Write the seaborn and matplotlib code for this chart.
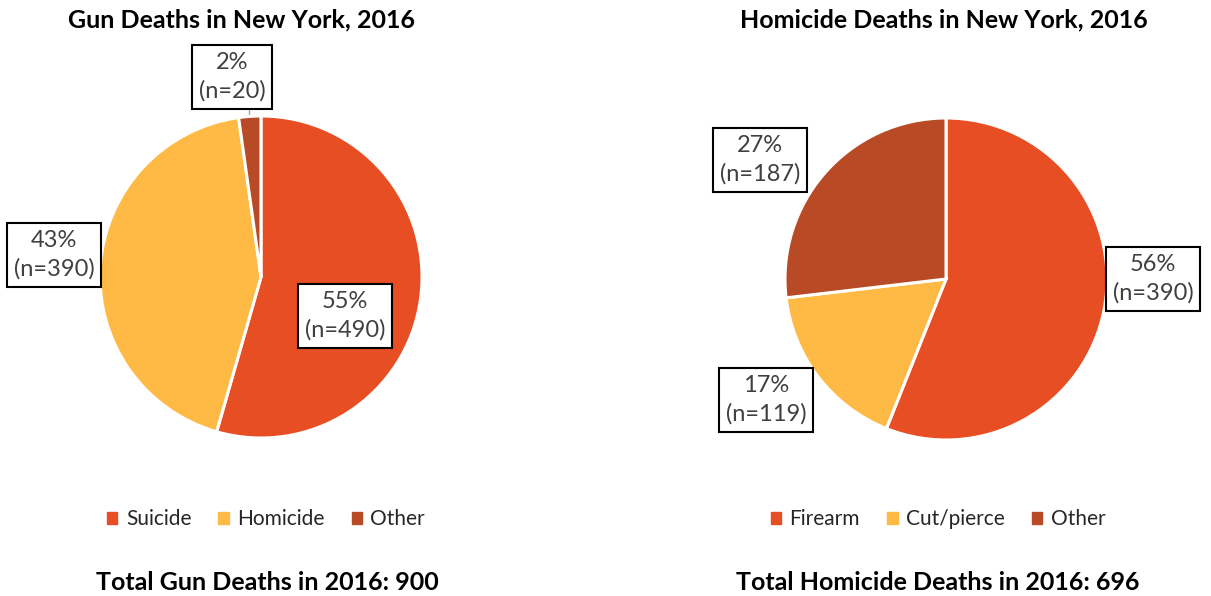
import matplotlib
matplotlib.use("Agg")
import matplotlib.pyplot as plt
import matplotlib.patches as mpatches
import seaborn as sns

# data
gun_labels = ["Suicide", "Homicide", "Other"]
gun_counts = [490, 390, 20]
gun_pcts = [55, 43, 2]

hom_labels = ["Firearm", "Cut/pierce", "Other"]
hom_counts = [390, 119, 187]
hom_pcts = [56, 17, 27]

colors = ["#E84E24", "#FFBA45", "#B84A25"]

sns.set_theme(style="white")
plt.rcParams["font.family"] = ["Lato", "DejaVu Sans"]

W, H = 1211, 596
fig = plt.figure(figsize=(W / 100, H / 100), dpi=100)
R = 161


def pie_axes(cx, cy):
    ax = fig.add_axes([(cx - R) / W, 1 - (cy + R) / H, 2 * R / W, 2 * R / H])
    ax.axis("off")
    return ax


def px(ax_c, p):
    cx, cy = ax_c
    return (p[0] - cx) / R, (cy - p[1]) / R


def draw_pie(cx, cy, counts, pcts, label_pos, leader=None):
    ax = pie_axes(cx, cy)
    wedges, _ = ax.pie(counts, colors=colors, startangle=90, counterclock=False,
                       radius=1, wedgeprops=dict(edgecolor="white", linewidth=2.2))
    ax.set_xlim(-1, 1)
    ax.set_ylim(-1, 1)
    ax.set_aspect("auto")
    for (p, n, pos) in zip(pcts, counts, label_pos):
        x, y = px((cx, cy), pos)
        ax.text(x, y, f"{p}%\n(n={n})", ha="center", va="center", fontsize=17,
                color="#404040", linespacing=1.4, clip_on=False,
                bbox=dict(boxstyle="square,pad=0.3", fc="white", ec="black", lw=1.5))
    if leader is not None:
        (x0, y0), (x1, y1) = px((cx, cy), leader[0]), px((cx, cy), leader[1])
        ax.plot([x0, x1], [y0, y1], color="#A6A6A6", lw=1, clip_on=False, zorder=0)
    return ax, wedges


ax1, w1 = draw_pie(261, 277, gun_counts, gun_pcts,
                   [(345, 316), (54, 255), (232, 77)],
                   leader=((249, 108), (249, 117)))
ax2, w2 = draw_pie(946, 279, hom_counts, hom_pcts,
                   [(1153, 279), (766, 400), (760, 160)])

title_kw = dict(ha="center", va="center", fontsize=18, fontweight="bold", color="black")
fig.text(242 / W, 1 - 20 / H, "Gun Deaths in New York, 2016", **title_kw)
fig.text(944 / W, 1 - 20 / H, "Homicide Deaths in New York, 2016", **title_kw)
fig.text(267 / W, 1 - 583 / H, "Total Gun Deaths in 2016: 900", **title_kw)
fig.text(938 / W, 1 - 583 / H, "Total Homicide Deaths in 2016: 696", **title_kw)


def legend(labels, x):
    handles = [mpatches.Patch(color=c, label=l) for c, l in zip(colors, labels)]
    fig.legend(handles=handles, loc="center", bbox_to_anchor=(x / W, 1 - 519 / H),
               ncol=3, frameon=False, fontsize=15, handlelength=0.5, handleheight=0.5,
               handletextpad=0.4, columnspacing=1.3, labelcolor="#262626")


legend(gun_labels, 266)
legend(hom_labels, 938)

fig.savefig("out.png", dpi=100, facecolor="white")
